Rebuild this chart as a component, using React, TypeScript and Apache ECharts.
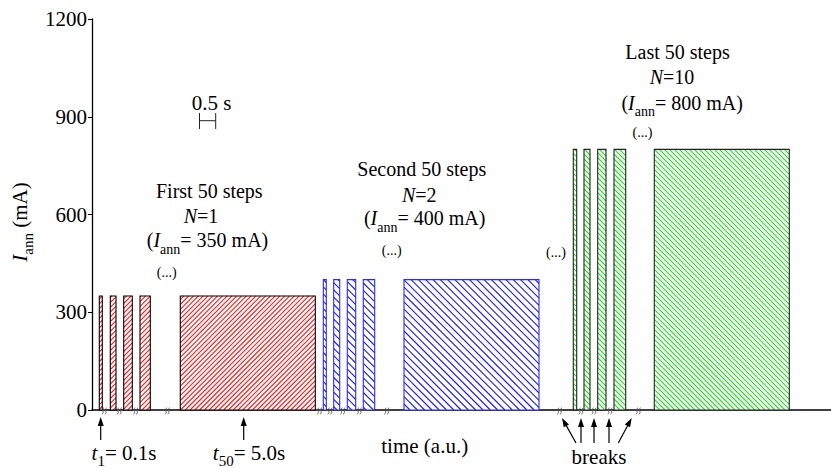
import React, { useEffect, useRef } from "react";
import * as echarts from "echarts";

const FONT = "Liberation Serif";

// ---- data (time in a.u., current in mA) ----
const yTicks = [0, 300, 600, 900, 1200];
const stepTitles = ["First 50 steps", "Second 50 steps", "Last 50 steps"];
const stepN = [1, 2, 10];
const currents = [350, 400, 800];
const firstPulses = [
  [7.3, 10.3],
  [18.3, 24],
  [31.7, 40.3],
  [48, 58.3],
  [88.3, 223.3],
];
const secondPulses = [
  [231.3, 234.3],
  [241.7, 247.7],
  [255.3, 263.7],
  [271.3, 282.7],
  [312, 447],
];
const lastPulses = [
  [481.3, 484.7],
  [492, 498],
  [505.7, 514],
  [522, 533.7],
  [562.3, 697.3],
];
const breakTimes = [12.3, 27.3, 43.7, 75.3, 227.5, 238, 250.7, 267.3, 294.7, 467.5, 489, 502, 518, 546.3];

const makeHatchRender =
  (hatch: string, stroke: string, spacing: number, dir: number) =>
  (params: any, api: any) => {
    const p0 = api.coord([api.value(0), api.value(2)]);
    const p1 = api.coord([api.value(1), 0]);
    const xa = p0[0],
      ya = p0[1],
      xb = p1[0],
      yb = p1[1];
    const children: any[] = [
      { type: "rect", shape: { x: xa, y: ya, width: xb - xa, height: yb - ya }, style: { fill: "#fff" } },
    ];
    const lineStyle = { stroke: hatch, lineWidth: 1.1 };
    if (dir > 0) {
      const kMin = Math.ceil((xa - yb) / spacing) * spacing;
      for (let k = kMin; k <= xb - ya; k += spacing) {
        const xs = Math.max(xa, ya + k);
        const xe = Math.min(xb, yb + k);
        if (xe > xs) children.push({ type: "line", shape: { x1: xs, y1: xs - k, x2: xe, y2: xe - k }, style: lineStyle });
      }
    } else {
      const kMin = Math.ceil((xa + ya) / spacing) * spacing;
      for (let k = kMin; k <= xb + yb; k += spacing) {
        const xs = Math.max(xa, k - yb);
        const xe = Math.min(xb, k - ya);
        if (xe > xs) children.push({ type: "line", shape: { x1: xs, y1: k - xs, x2: xe, y2: k - xe }, style: lineStyle });
      }
    }
    children.push({
      type: "rect",
      shape: { x: xa, y: ya, width: xb - xa, height: yb - ya },
      style: { fill: "none", stroke, lineWidth: 1.1 },
    });
    return { type: "group", children };
  };

const renderBreak = (params: any, api: any) => {
  const p = api.coord([api.value(0), 0]);
  const cy = p[1] + 1;
  const children = [-1.4, 1.4].map((dx) => {
    const cx = p[0] + dx;
    return {
      type: "bezierCurve",
      shape: { x1: cx - 1, y1: cy + 3.2, cpx1: cx + 2.6, cpy1: cy + 1.4, cpx2: cx - 2.6, cpy2: cy - 1.4, x2: cx + 1, y2: cy - 3.2 },
      style: { fill: "none", stroke: "#555", lineWidth: 0.9 },
    };
  });
  return { type: "group", children };
};

const baseRich = {
  n: { fontFamily: FONT, fontSize: 20, lineHeight: 22, verticalAlign: "top" },
  i: { fontFamily: FONT, fontSize: 20, lineHeight: 22, verticalAlign: "top", fontStyle: "italic" },
  s: { fontFamily: FONT, fontSize: 14, lineHeight: 16, verticalAlign: "top", padding: [12, 0, 0, 0] },
};

const bigRich = {
  n: { ...baseRich.n, fontSize: 21, lineHeight: 21 },
  i: { ...baseRich.i, fontSize: 21, lineHeight: 21 },
  s: { ...baseRich.s, fontSize: 15, lineHeight: 15, padding: [11, 0, 0, 0] },
};

const plainText = (x: number, y: number, text: string, size = 20) => ({
  type: "text",
  x,
  y,
  style: {
    text,
    fontFamily: FONT,
    fontSize: size,
    fill: "#000",
    align: "center",
    verticalAlign: "middle",
  },
});

const richText = (x: number, yTop: number, text: string, rich: any, rotation = 0) => ({
  type: "text",
  x,
  y: yTop,
  rotation,
  style: {
    text,
    rich,
    fontFamily: FONT,
    fontSize: 20,
    fill: "#000",
    align: "center",
    verticalAlign: "top",
  },
});

const arrow = (x1: number, y1: number, x2: number, y2: number) => {
  const dx = x2 - x1,
    dy = y2 - y1;
  const L = Math.hypot(dx, dy);
  const ux = dx / L,
    uy = dy / L;
  const hl = 9,
    hw = 3;
  const bx = x2 - ux * hl,
    by = y2 - uy * hl;
  return [
    { type: "line", shape: { x1, y1, x2: bx + ux * 2, y2: by + uy * 2 }, style: { stroke: "#000", lineWidth: 1.2 } },
    {
      type: "polygon",
      shape: {
        points: [
          [x2, y2],
          [bx - uy * hw, by + ux * hw],
          [bx + uy * hw, by - ux * hw],
        ],
      },
      style: { fill: "#000" },
    },
  ];
};

export default function App() {
  const ref = useRef<HTMLDivElement>(null);
  useEffect(() => {
    if (!ref.current) return;
    const chart = echarts.init(ref.current, null, { renderer: "svg" });
    const mk = (pulses: number[][], idx: number) => pulses.map(([s, e]) => [s, e, currents[idx]]);

    const graphic: any[] = [
      richText(9.5, 222, "{i|I}{s|ann}{n| (mA)}", bigRich, Math.PI / 2),
      plainText(211.5, 102.5, "0.5 s", 21),
      { type: "line", shape: { x1: 199.5, y1: 120.7, x2: 215.7, y2: 120.7 }, style: { stroke: "#222", lineWidth: 1 } },
      { type: "line", shape: { x1: 199.5, y1: 113, x2: 199.5, y2: 129 }, style: { stroke: "#222", lineWidth: 1 } },
      { type: "line", shape: { x1: 215.7, y1: 113, x2: 215.7, y2: 129 }, style: { stroke: "#222", lineWidth: 1 } },
      plainText(209.3, 191, stepTitles[0]),
      richText(201, 206, `{i|N}{n|=${stepN[0]}}`, baseRich),
      richText(207.5, 230, `{n|(}{i|I}{s|ann}{n|= ${currents[0]} mA)}`, baseRich),
      plainText(166.7, 272, "(...)", 14),
      plainText(421.8, 169, stepTitles[1]),
      richText(419.2, 184.7, `{i|N}{n|=${stepN[1]}}`, baseRich),
      richText(424.7, 208.3, `{n|(}{i|I}{s|ann}{n|= ${currents[1]} mA)}`, baseRich),
      plainText(391.7, 250, "(...)", 14),
      plainText(556, 252, "(...)", 14),
      plainText(677.5, 52.3, stepTitles[2]),
      richText(672, 67.3, `{i|N}{n|=${stepN[2]}}`, baseRich),
      richText(682.2, 92.7, `{n|(}{i|I}{s|ann}{n|= ${currents[2]} mA)}`, baseRich),
      plainText(642.5, 132, "(...)", 14),
      richText(124, 442.5, "{i|t}{s|1}{n|= 0.1s}", bigRich),
      richText(249, 442.5, "{i|t}{s|50}{n|= 5.0s}", bigRich),
      plainText(424.7, 445.5, "time (a.u.)", 21),
      plainText(599, 457, "breaks", 21),
      ...arrow(100.7, 440, 100.7, 417),
      ...arrow(243.7, 440, 243.7, 417),
      ...arrow(576, 443, 562, 418),
      ...arrow(581, 443, 581, 418),
      ...arrow(594, 443, 594, 418),
      ...arrow(609, 443, 609, 418),
      ...arrow(618.3, 443, 631.7, 418),
    ];

    chart.setOption({
      animation: false,
      grid: { left: 92, right: 0, top: 19, bottom: 58 },
      xAxis: {
        type: "value",
        min: 0,
        max: 739,
        axisLine: { show: true, onZero: false, lineStyle: { color: "#000", width: 1.5 } },
        axisTick: { show: false },
        axisLabel: { show: false },
        splitLine: { show: false },
      },
      yAxis: {
        type: "value",
        min: yTicks[0],
        max: yTicks[yTicks.length - 1],
        interval: yTicks[1] - yTicks[0],
        axisLine: { show: true, lineStyle: { color: "#000", width: 1.3 } },
        axisTick: { show: true, length: 4, lineStyle: { color: "#000", width: 1 } },
        axisLabel: { color: "#000", fontFamily: FONT, fontSize: 21, margin: 5, formatter: (v: number) => String(v) },
        splitLine: { show: false },
      },
      series: [
        {
          type: "custom",
          clip: false,
          renderItem: makeHatchRender("#ff1a1a", "#000", 4.8, -1),
          encode: { x: [0, 1], y: 2 },
          data: mk(firstPulses, 0),
        },
        {
          type: "custom",
          clip: false,
          renderItem: makeHatchRender("#1a1aff", "#2a2aff", 7.3, 1),
          encode: { x: [0, 1], y: 2 },
          data: mk(secondPulses, 1),
        },
        {
          type: "custom",
          clip: false,
          renderItem: makeHatchRender("#22dd22", "#222", 5, 1),
          encode: { x: [0, 1], y: 2 },
          data: mk(lastPulses, 2),
        },
        {
          type: "custom",
          clip: false,
          z: 5,
          renderItem: renderBreak,
          encode: { x: 0, y: 1 },
          data: breakTimes.map((t) => [t, 0]),
        },
      ],
      graphic,
    });
    return () => chart.dispose();
  }, []);
  return <div ref={ref} style={{ position: "absolute", left: 0, top: 0, width: 831, height: 468 }} />;
}
